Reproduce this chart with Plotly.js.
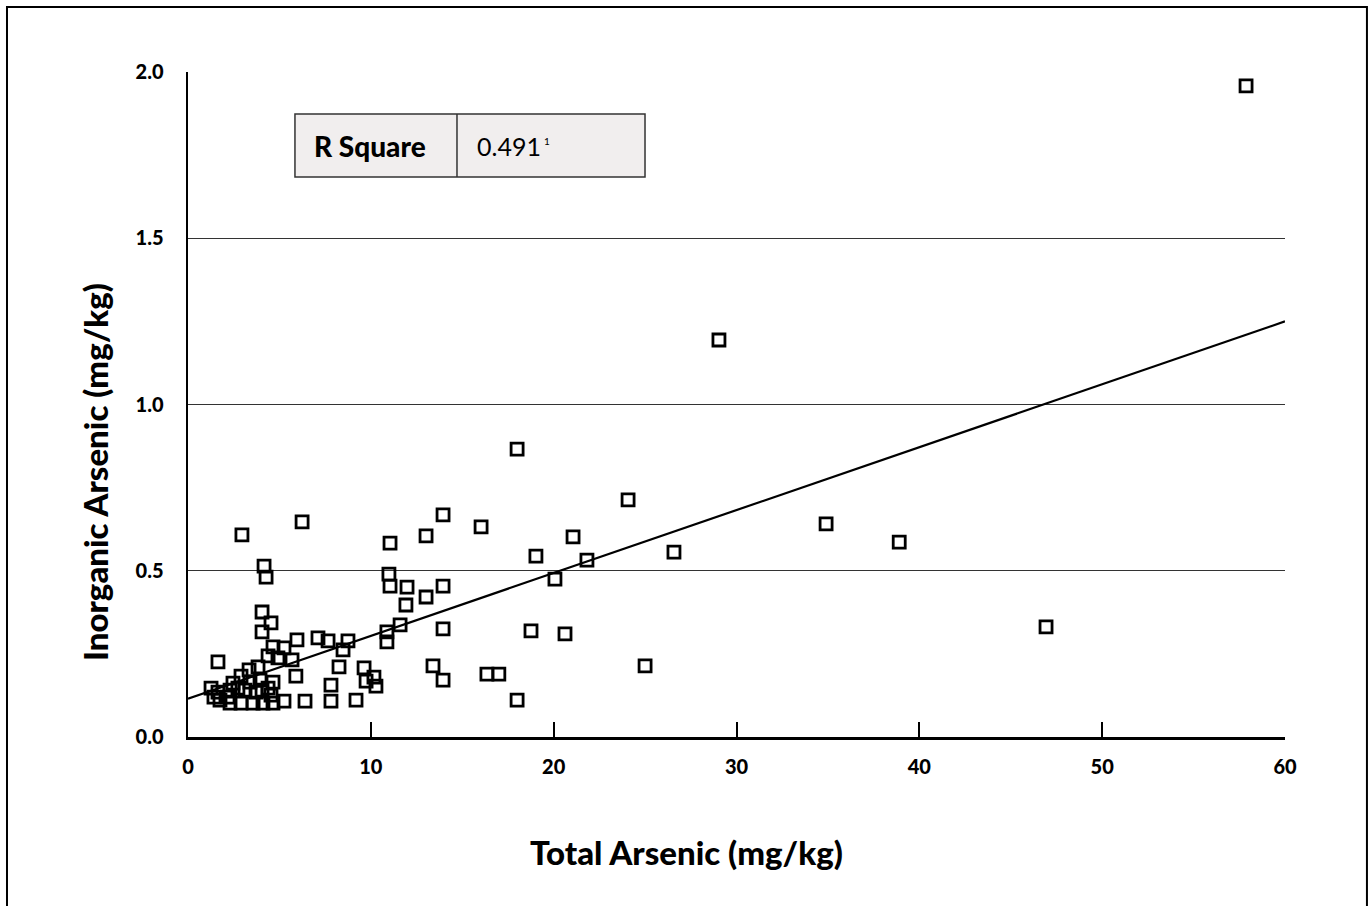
<!DOCTYPE html>
<html>
<head>
<meta charset="utf-8">
<script src="https://cdn.plot.ly/plotly-3.0.1.min.js"></script>
<style>html,body{margin:0;padding:0;background:#fff;}#chart{width:1372px;height:906px;}</style>
</head>
<body>
<div id="chart"></div>
<script>
// Total arsenic (mg/kg)
var totalArsenic = [
  57.87, 29.04, 18.0, 24.07, 34.9, 38.9, 46.93, 26.58, 25.0, 21.06,
  21.82, 19.03, 20.07, 20.62, 18.76, 16.03, 18.0, 16.35, 17.0, 13.95,
  13.02, 13.95, 13.02, 13.95, 13.4, 13.95, 11.05, 10.99, 11.05, 11.98,
  11.92, 11.6, 10.88, 10.88, 10.17, 10.28, 9.63, 9.74, 9.19, 8.75,
  8.48, 8.26, 7.82, 7.82, 7.66, 7.11, 6.4, 6.24, 5.96, 5.9,
  5.69, 5.25, 5.25, 2.95, 4.16, 4.27, 4.05, 4.54, 4.05, 1.64,
  1.26, 1.64, 1.42, 1.75, 2.30, 2.30, 2.73, 2.19, 2.46, 2.90,
  2.90, 3.12, 3.39, 3.34, 3.56, 3.72, 3.83, 3.94, 4.05, 4.10,
  4.38, 4.54, 4.65, 4.65, 4.38, 4.92, 4.65
];
// Inorganic arsenic (mg/kg)
var inorganicArsenic = [
  1.958, 1.194, 0.866, 0.713, 0.641, 0.586, 0.331, 0.556, 0.214, 0.602,
  0.532, 0.544, 0.475, 0.310, 0.319, 0.632, 0.111, 0.189, 0.189, 0.668,
  0.605, 0.454, 0.421, 0.325, 0.214, 0.171, 0.583, 0.490, 0.454, 0.451,
  0.397, 0.337, 0.316, 0.286, 0.180, 0.153, 0.208, 0.168, 0.111, 0.289,
  0.262, 0.211, 0.156, 0.108, 0.289, 0.298, 0.108, 0.647, 0.292, 0.183,
  0.232, 0.268, 0.108, 0.608, 0.514, 0.481, 0.376, 0.343, 0.316, 0.226,
  0.147, 0.135, 0.120, 0.111, 0.102, 0.141, 0.147, 0.120, 0.162, 0.183,
  0.102, 0.141, 0.165, 0.202, 0.102, 0.135, 0.211, 0.171, 0.141, 0.102,
  0.147, 0.126, 0.165, 0.102, 0.244, 0.238, 0.271
];
// Fitted regression line endpoints
var fitX = [0, 60];
var fitY = [0.115, 1.25];
var xTicks = [0, 10, 20, 30, 40, 50, 60];
var yTicks = [0.0, 0.5, 1.0, 1.5, 2.0];
var yTickLabels = ['0.0', '0.5', '1.0', '1.5', '2.0'];
var rSquareLabel = 'R Square';
var rSquareValue = '0.491';
var rSquareLastDigit = '1';

var FONT = 'Lato, "Open Sans", "DejaVu Sans", sans-serif';

var traces = [
  {
    x: fitX, y: fitY, mode: 'lines', type: 'scatter',
    line: {color: '#000', width: 2.2}, hoverinfo: 'skip', showlegend: false
  },
  {
    x: totalArsenic, y: inorganicArsenic, mode: 'markers', type: 'scatter',
    marker: {symbol: 'square-open', size: 12, color: '#000', line: {color: '#000', width: 2.8}},
    showlegend: false
  }
];

var layout = {
  width: 1372, height: 906,
  margin: {l: 188, r: 87, t: 72, b: 169, pad: 0},
  paper_bgcolor: '#fff', plot_bgcolor: '#fff',
  font: {family: FONT, color: '#000'},
  showlegend: false,
  xaxis: {
    range: [0, 60], tickvals: xTicks, ticktext: xTicks.map(String),
    showgrid: false, zeroline: false,
    showline: true, linecolor: '#000', linewidth: 2.5,
    ticks: 'inside', ticklen: 15, tickwidth: 2, tickcolor: '#000',
    ticklabelstandoff: 10,
    tickfont: {family: FONT, size: 20, color: '#000', weight: 900}
  },
  yaxis: {
    range: [0, 2.0], tickvals: yTicks, ticktext: yTickLabels,
    showgrid: true, gridcolor: '#333', gridwidth: 1.2,
    zeroline: false,
    showline: true, linecolor: '#000', linewidth: 2.5,
    ticks: '', ticklabelstandoff: 18,
    tickfont: {family: FONT, size: 20, color: '#000', weight: 900}
  },
  shapes: [
    {type: 'rect', xref: 'paper', yref: 'paper', x0: -0.165, x1: 1.0747, y0: -0.28, y1: 1.0977,
     line: {color: '#000', width: 2}, fillcolor: 'rgba(0,0,0,0)', layer: 'below'},
    {type: 'rect', xref: 'paper', yref: 'paper', x0: 0.0975, x1: 0.4166, y0: 0.8421, y1: 0.9368,
     line: {color: '#333', width: 1.5}, fillcolor: '#f1eeee', layer: 'above'},
    {type: 'line', xref: 'paper', yref: 'paper', x0: 0.2452, x1: 0.2452, y0: 0.8421, y1: 0.9368,
     line: {color: '#333', width: 1.5}, layer: 'above'}
  ],
  annotations: [
    {xref: 'paper', yref: 'paper', x: (370 - 188) / 1097, y: 0.889, text: rSquareLabel, showarrow: false,
     xanchor: 'center', yanchor: 'middle', font: {family: FONT, size: 28, color: '#000', weight: 900}},
    {xref: 'paper', yref: 'paper', x: (475 - 188) / 1097, y: 0.889, text: rSquareValue, showarrow: false,
     xanchor: 'left', yanchor: 'middle', font: {family: FONT, size: 25, color: '#000'}},
    {xref: 'paper', yref: 'paper', x: (542 - 188) / 1097, y: (737 - 141) / 665, text: rSquareLastDigit, showarrow: false,
     xanchor: 'left', yanchor: 'middle', font: {family: FONT, size: 10, color: '#000'}},
    {xref: 'paper', yref: 'paper', x: (686 - 188) / 1097, y: (737 - 852) / 665, text: 'Total Arsenic (mg/kg)',
     showarrow: false, xanchor: 'center', yanchor: 'middle', font: {family: FONT, size: 33, color: '#000', weight: 900}},
    {xref: 'paper', yref: 'paper', x: (95 - 188) / 1097, y: (737 - 472) / 665, text: 'Inorganic Arsenic (mg/kg)',
     showarrow: false, textangle: -90, xanchor: 'center', yanchor: 'middle', font: {family: FONT, size: 33, color: '#000', weight: 900}}
  ]
};

Plotly.newPlot('chart', traces, layout, {displayModeBar: false, staticPlot: true});
</script>
</body>
</html>
